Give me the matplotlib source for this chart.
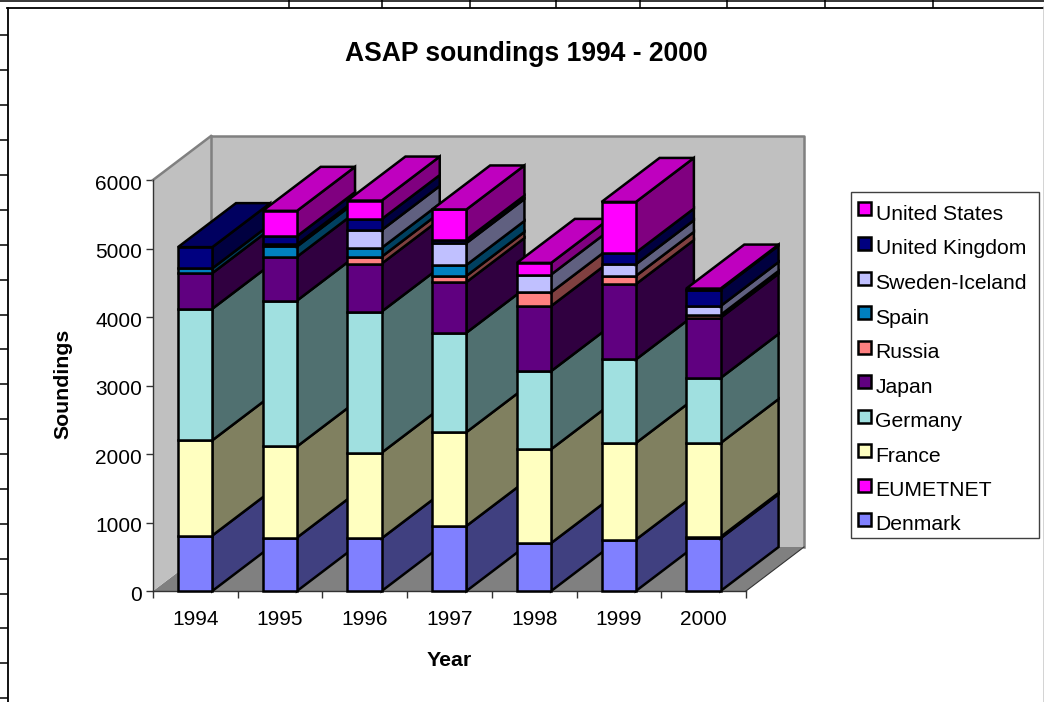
#!/usr/bin/env python3
import matplotlib
matplotlib.use('Agg')
from matplotlib import pyplot as plt
from matplotlib.patches import Polygon, Rectangle
from matplotlib.lines import Line2D
from matplotlib.transforms import ScaledTranslation

years = ['1994', '1995', '1996', '1997', '1998', '1999', '2000']
names = ['Denmark', 'EUMETNET', 'France', 'Germany', 'Japan', 'Russia',
	'Spain', 'Sweden-Iceland', 'United Kingdom', 'United States']
denmark = [810, 780, 770, 950, 700, 750, 770]
eumetnet = [0, 0, 0, 0, 0, 0, 20]
france = [1390, 1330, 1250, 1370, 1370, 1410, 1370]
germany = [1920, 2130, 2060, 1450, 1140, 1220, 950]
japan = [520, 640, 700, 740, 950, 1100, 880]
russia = [0, 0, 100, 90, 200, 120, 40]
spain = [70, 150, 130, 160, 0, 0, 0]
sweden = [0, 30, 260, 320, 260, 170, 130]
uk = [310, 120, 160, 50, 0, 170, 240]
us = [0, 370, 270, 440, 170, 740, 15]
series = [denmark, eumetnet, france, germany, japan, russia, spain, sweden, uk, us]
colors = ['#8080ff', '#ff00ff', '#ffffc0', '#a0e0e0', '#600080', '#ff8080',
	'#0080c0', '#c0c0ff', '#000080', '#ff00ff']

W, H = 1044, 702
# depth of the 3d box in data units
DX = 58 / 84.7
DZ = 44 / 0.0685
BAR_L = 0.295
BAR_W = 0.405
LINE = 1.8

def shade(color, k):
	r, g, b = matplotlib.colors.to_rgb(color)
	return (r * k, g * k, b * k)

def poly(ax, pts, fc, z, ec='black', lw=LINE):
	ax.add_patch(Polygon(pts, closed=True, fc=fc, ec=ec, lw=lw, zorder=z,
		clip_on=False, joinstyle='miter'))

def fig_line(fig, xs, ys, color='black', lw=1.1):
	fig.add_artist(Line2D([x / W for x in xs], [1 - y / H for y in ys],
		color=color, lw=lw))

def fig_rect(fig, x0, y0, x1, y1, fc, ec, lw):
	fig.add_artist(Rectangle((x0 / W, 1 - y1 / H), (x1 - x0) / W, (y1 - y0) / H,
		transform=fig.transFigure, fc=fc, ec=ec, lw=lw, joinstyle='miter'))

def draw_box(ax):
	n = len(years)
	poly(ax, [(0, 0), (n, 0), (n + DX, DZ), (DX, DZ)], '#808080', 1, ec='none')
	poly(ax, [(0, 0), (DX, DZ), (DX, 6000 + DZ), (0, 6000)], '#c0c0c0', 1, ec='none')
	poly(ax, [(DX, DZ), (n + DX, DZ), (n + DX, 6000 + DZ), (DX, 6000 + DZ)], '#c0c0c0', 1, ec='none')
	edge = {'color': '#808080', 'lw': 1.8, 'clip_on': False, 'zorder': 2}
	ax.plot([DX, DX], [DZ, 6000 + DZ], **edge)
	ax.plot([DX, n + DX, n + DX], [6000 + DZ, 6000 + DZ, DZ], **edge)
	ax.plot([0, DX], [6000, 6000 + DZ], **edge)
	ax.plot([n, n + DX], [0, DZ], color='#333333', lw=0.8, clip_on=False, zorder=2)

def draw_bars(ax):
	z = 3
	for i in range(len(years)):
		x0 = i + BAR_L
		x1 = x0 + BAR_W
		base = 0
		top_color = None
		for values, color in zip(series, colors):
			v = values[i]
			if v == 0:
				continue
			poly(ax, [(x1, base), (x1 + DX, base + DZ), (x1 + DX, base + v + DZ), (x1, base + v)], shade(color, 0.5), z)
			poly(ax, [(x0, base), (x1, base), (x1, base + v), (x0, base + v)], color, z)
			z += 1
			base += v
			top_color = color
		poly(ax, [(x0, base), (x1, base), (x1 + DX, base + DZ), (x0 + DX, base + DZ)], shade(top_color, 0.75), z)
		z += 1

def draw_legend(fig):
	fig_rect(fig, 850.5, 191.5, 1039, 537.5, 'white', '#404040', 1.0)
	for k, (name, color) in enumerate(zip(names[::-1], colors[::-1])):
		y = 209 + 34.5 * k
		fig_rect(fig, 857.5, y - 6.5, 871, y + 6.5, color, 'black', LINE)
		fig.text(875.5 / W, 1 - (y + 11) / H, name, fontsize=15.2, ha='left', va='baseline')

def main():
	plt.rcParams['font.family'] = ['Liberation Sans', 'DejaVu Sans']
	fig = plt.figure(figsize=(W / 100, H / 100), dpi=100)
	ax = fig.add_axes([153 / W, 1 - 591 / H, 593 / W, 411 / H])
	ax.set_xlim(0, len(years))
	ax.set_ylim(0, 6000)
	ax.patch.set_visible(False)
	for s in ['top', 'right']:
		ax.spines[s].set_visible(False)
	for s in ['left', 'bottom']:
		ax.spines[s].set_color('#333333')
		ax.spines[s].set_linewidth(1.0)
		ax.spines[s].set_zorder(2)
	draw_box(ax)
	draw_bars(ax)

	ax.set_yticks(range(0, 7000, 1000))
	ax.tick_params(axis='y', labelsize=15, length=5, width=1, color='#333333', pad=3)
	# value labels sit a little below their ticks
	down = ScaledTranslation(0, -1.5 / 72, fig.dpi_scale_trans)
	for label in ax.get_yticklabels():
		label.set_transform(label.get_transform() + down)
	ax.set_xticks(range(len(years) + 1))
	ax.set_xticklabels([])
	ax.set_xticks([i + 0.5 for i in range(len(years))], years, minor=True)
	ax.tick_params(axis='x', which='major', length=5, width=1, color='#333333')
	ax.tick_params(axis='x', which='minor', length=0, labelsize=15, pad=14)

	fig.text(526 / W, 1 - 54 / H, 'ASAP soundings 1994 - 2000', fontsize=19.1,
		fontweight='bold', ha='center', va='center')
	fig.text(449 / W, 1 - 661 / H, 'Year', fontsize=15.3, fontweight='bold', ha='center', va='center')
	fig.text(63 / W, 1 - 384 / H, 'Soundings', fontsize=15.3, fontweight='bold',
		rotation=90, ha='center', va='center')

	draw_legend(fig)

	# spreadsheet cell lines around the embedded chart
	fig_line(fig, [0, W], [0.5, 0.5])
	for x in [289, 382, 470, 556, 640, 727, 825, 933]:
		fig_line(fig, [x, x], [0, 7])
	fig_line(fig, [7.5, 7.5], [7.5, H], lw=1.3)
	fig_line(fig, [7, W], [7.5, 7.5], lw=1.3)
	fig_line(fig, [1043.5, 1043.5], [7, H], color='#c8c8c8')
	for y in [35, 70, 105, 140, 175, 210, 245, 280, 315, 349, 384, 419, 454, 489, 524, 559, 594, 628, 663, 698]:
		fig_line(fig, [0, 7], [y, y])
	fig.savefig('out.png', dpi=100)

if __name__ == '__main__':
	main()
